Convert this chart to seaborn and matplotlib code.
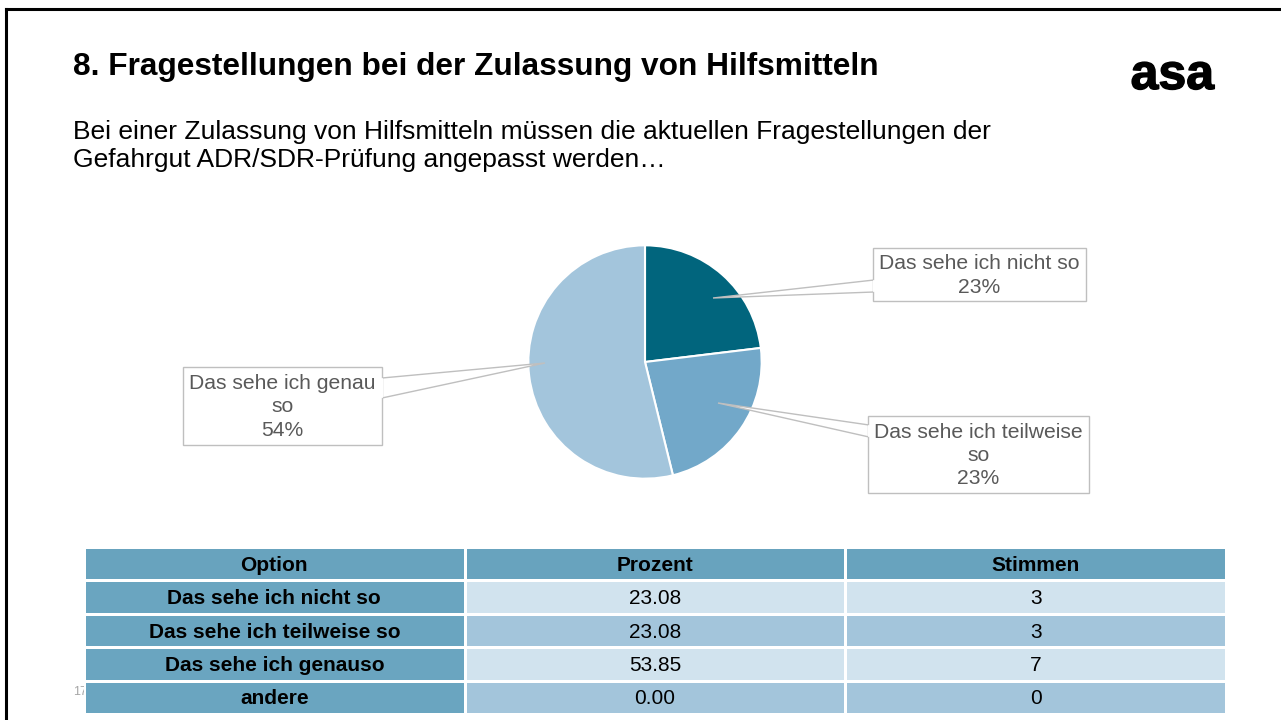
import numpy as np
import pandas as pd
import matplotlib
matplotlib.use("Agg")
import matplotlib.pyplot as plt
import matplotlib.patheffects as pe
from matplotlib.colors import ListedColormap
from matplotlib.patches import Polygon, Rectangle
import seaborn as sns

# data
options = ["Das sehe ich nicht so", "Das sehe ich teilweise so", "Das sehe ich genauso", "andere"]
percent = [23.08, 23.08, 53.85, 0.00]
votes = [3, 3, 7, 0]
pie_labels = ["Das sehe ich nicht so", "Das sehe ich teilweise\nso", "Das sehe ich genau\nso"]
pie_colors = ["#01657D", "#72A8C9", "#A3C5DC"]
headers = ["Option", "Prozent", "Stimmen"]

title = "8. Fragestellungen bei der Zulassung von Hilfsmitteln"
subtitle = ("Bei einer Zulassung von Hilfsmitteln müssen die aktuellen Fragestellungen der\n"
            "Gefahrgut ADR/SDR-Prüfung angepasst werden…")

sns.set_theme(style="white")
plt.rcParams["font.family"] = ["Liberation Sans", "DejaVu Sans"]

W, H = 1281, 720
fig = plt.figure(figsize=(W / 100, H / 100), dpi=100)

# background axis in pixel coordinates
bg = fig.add_axes([0, 0, 1, 1])
bg.set_xlim(0, W)
bg.set_ylim(H, 0)
bg.axis("off")

# slide frame
bg.plot([6, 6], [720, 9], color="black", lw=2.2, solid_capstyle="projecting")
bg.plot([6, W], [9, 9], color="black", lw=2.2, solid_capstyle="projecting")

bg.text(73, 67, title, fontsize=22.8, fontweight="bold", va="center", ha="left", color="black")
bg.text(1214, 76, "asa", fontsize=36, fontweight="heavy", va="center", ha="right", color="black",
        path_effects=[pe.withStroke(linewidth=1.0, foreground="black")])
bg.text(73, 146, subtitle, fontsize=19, va="center", ha="left", color="black", linespacing=1.2)
bg.text(73, 692, "17", fontsize=9, va="center", ha="left", color="#A6A6A6")

# callouts: tip, wedge base points, box rect (x0, y0, x1, y1), label index
callouts = [
    ((713, 298), [(874, 280), (874, 292)], (873, 248, 1086, 301), 0),
    ((718, 403), [(869, 425), (869, 437)], (868, 416, 1089, 493), 1),
    ((545, 363), [(382, 378), (382, 398)], (183, 367, 382, 445), 2),
]

# pie
cx, cy, r = 645, 362, 119
pie_ax = fig.add_axes([(cx - r) / W, (H - cy - r) / H, 2 * r / W, 2 * r / H])
pie_ax.pie(percent[:3], colors=pie_colors, startangle=90, counterclock=False,
           radius=1, wedgeprops=dict(edgecolor="white", linewidth=1.5))
pie_ax.set_xlim(-1.02, 1.02)
pie_ax.set_ylim(-1.02, 1.02)
pie_ax.set_zorder(2)

# callouts on top of the pie
tip_ax = fig.add_axes([0, 0, 1, 1], facecolor="none")
tip_ax.set_xlim(0, W)
tip_ax.set_ylim(H, 0)
tip_ax.axis("off")
tip_ax.set_zorder(3)
for tip, base, box, i in callouts:
    tip_ax.add_patch(Polygon([tip, base[0], base[1]], closed=True, facecolor="white",
                             edgecolor="#BFBFBF", lw=1.0))
    x0, y0, x1, y1 = box
    tip_ax.add_patch(Rectangle((x0, y0), x1 - x0, y1 - y0, facecolor="white",
                               edgecolor="#BFBFBF", lw=1.0))
    tip_ax.plot([base[0][0], base[1][0]], [base[0][1] + 1, base[1][1] - 1], color="white", lw=1.6)
    txt = pie_labels[i] + "\n" + f"{round(percent[i])}%"
    tip_ax.text((x0 + x1) / 2, (y0 + y1) / 2 + 1, txt, fontsize=15.2, color="#595959",
                ha="center", va="center", linespacing=1.3)

# table as heatmap
cells = [headers] + [[o, f"{p:.2f}", str(v)] for o, p, v in zip(options, percent, votes)]
codes = np.zeros((5, 3), dtype=int)
for ri in range(1, 5):
    codes[ri, 0] = 1
    codes[ri, 1:] = 2 if ri % 2 == 1 else 3
df_codes = pd.DataFrame(codes)
cmap = ListedColormap(["#68A3BE", "#6AA5C0", "#D1E3EE", "#A3C5DB"])

tx0, ty0, tx1, ty1 = 84, 547, 1226, 714
tab_ax = fig.add_axes([tx0 / W, (H - ty1) / H, (tx1 - tx0) / W, (ty1 - ty0) / H])
sns.heatmap(df_codes, ax=tab_ax, cmap=cmap, vmin=-0.5, vmax=3.5, cbar=False,
            annot=np.array(cells), fmt="", linewidths=2, linecolor="white",
            annot_kws=dict(fontsize=15, color="black"))
tab_ax.set_xticks([])
tab_ax.set_yticks([])
tab_ax.set_xlabel("")
tab_ax.set_ylabel("")
for t in tab_ax.texts:
    x, y = t.get_position()
    t.set_position((x, y + 0.05))
    if int(y) == 0 or int(x) == 0:
        t.set_fontweight("bold")
tab_ax.set_zorder(4)

fig.savefig("out.png", dpi=100)
